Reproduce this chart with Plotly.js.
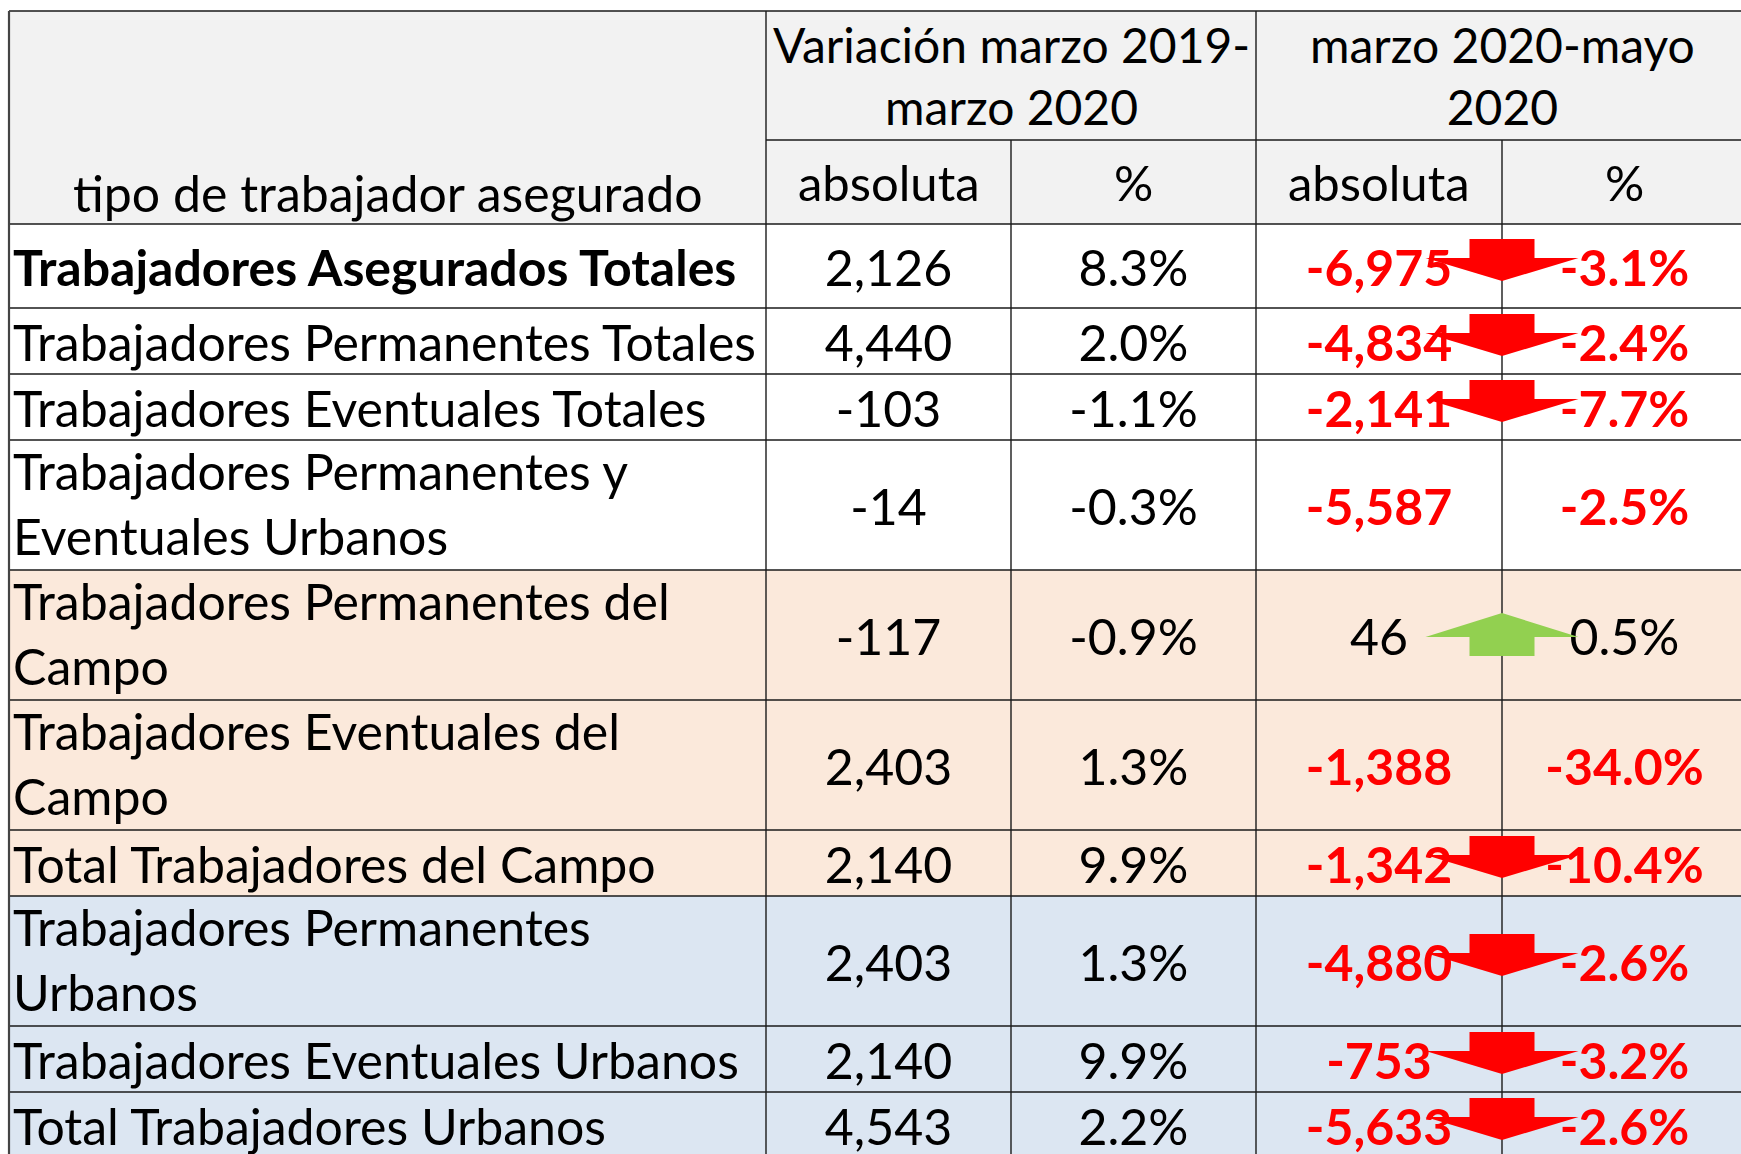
<!DOCTYPE html>
<html><head><meta charset="utf-8">
<script src="https://cdn.plot.ly/plotly-3.0.1.min.js"></script>
<style>html,body{margin:0;padding:0;background:#fff;overflow:hidden}</style>
</head><body><div id="chart" style="width:1741px;height:1154px"></div>
<script>
// ---------------- data ----------------
const titleText = "Trabajadores por categoría";
const firstHeader = "tipo de trabajador asegurado";
const periodLabels = ["Variación marzo 2019-<br>marzo 2020", "marzo 2020-mayo<br>2020"];
const subLabels = ["absoluta", "%", "absoluta", "%"];
const categories = [
  "Trabajadores Asegurados Totales",
  "Trabajadores Permanentes Totales",
  "Trabajadores Eventuales Totales",
  "Trabajadores Permanentes y<br>Eventuales Urbanos",
  "Trabajadores Permanentes del<br>Campo",
  "Trabajadores Eventuales del<br>Campo",
  "Total Trabajadores del Campo",
  "Trabajadores Permanentes<br>Urbanos",
  "Trabajadores Eventuales Urbanos",
  "Total Trabajadores Urbanos"
];
const groups = ["total","total","total","total","campo","campo","campo","urbano","urbano","urbano"];
const absMar19Mar20 = [2126, 4440, -103, -14, -117, 2403, 2140, 2403, 2140, 4543];
const pctMar19Mar20 = [8.3, 2.0, -1.1, -0.3, -0.9, 1.3, 9.9, 1.3, 9.9, 2.2];
const absMar20May20 = [-6975, -4834, -2141, -5587, 46, -1388, -1342, -4880, -753, -5633];
const pctMar20May20 = [-3.1, -2.4, -7.7, -2.5, 0.5, -34.0, -10.4, -2.6, -3.2, -2.6];
const trendArrow = ["down","down","down","","up","","down","down","down","down"];

// ---------------- layout constants ----------------
const W = 1741, H = 1154;
const colEdges = [9, 766, 1011, 1256, 1502, 1747];
const headerTop = 11, headerMid = 140, headerBottom = 224;
const lineStep = 64, boldRowH = 84;
const FONT = 'Lato, "Open Sans", sans-serif';
const FS = 50, HFS = 48;
const fills = {total: '#ffffff', campo: '#fbe9db', urbano: '#dce6f2'};
const headerFill = '#f2f2f2';
const gridColor = '#1a1a1a';
const RED = '#ff0000', GREEN = '#92d050';

// rows geometry
const n = categories.length;
const tops = [], heights = [], centers = [], nLines = [];
let yy = headerBottom;
for (let i = 0; i < n; i++) {
  const lines = categories[i].split('<br>').length;
  const h = i === 0 ? boldRowH : lines * lineStep + 2;
  tops.push(yy); heights.push(h); centers.push(yy + h / 2); nLines.push(lines);
  yy += h;
}
const bottom = yy;
const colCenter = k => (colEdges[k] + colEdges[k + 1]) / 2;

const fmtAbs = v => v.toLocaleString('en-US');
const fmtPct = v => v.toFixed(1) + '%';

// ---------------- shapes ----------------
const shapes = [];
shapes.push({type: 'rect', xref: 'x', yref: 'y', x0: colEdges[0], x1: colEdges[5], y0: headerTop, y1: headerBottom,
  fillcolor: headerFill, line: {width: 0}, layer: 'below'});
for (let i = 0; i < n; i++) {
  shapes.push({type: 'rect', xref: 'x', yref: 'y', x0: colEdges[0], x1: colEdges[5], y0: tops[i], y1: tops[i] + heights[i],
    fillcolor: fills[groups[i]], line: {width: 0}, layer: 'below'});
}
const hline = (y, x0, x1) => shapes.push({type: 'line', xref: 'x', yref: 'y', x0: x0, x1: x1, y0: y, y1: y,
  line: {color: gridColor, width: 1.4}, layer: 'below'});
const vline = (x, y0, y1, c, w) => shapes.push({type: 'line', xref: 'x', yref: 'y', x0: x, x1: x, y0: y0, y1: y1,
  line: {color: c || gridColor, width: w || 1.4}, layer: 'below'});
hline(headerTop, colEdges[0], colEdges[5]);
hline(headerMid, colEdges[1], colEdges[5]);
hline(headerBottom, colEdges[0], colEdges[5]);
for (let i = 0; i < n; i++) hline(tops[i] + heights[i], colEdges[0], colEdges[5]);
vline(colEdges[0], headerTop, bottom, '#444444', 2.2);
vline(colEdges[1], headerTop, bottom);
vline(colEdges[2], headerMid, bottom);
vline(colEdges[3], headerTop, bottom);
vline(colEdges[4], headerMid, bottom);

// arrows (between the two columns of the second period)
const ax = colEdges[4], shaftHalf = 32.5, headHalf = 76.5;
for (let i = 0; i < n; i++) {
  const c = centers[i];
  let p = null, col = null;
  if (trendArrow[i] === 'down') {
    const t = c - 27, m = c - 8, b = c + 15;
    p = `M${ax - shaftHalf},${t} L${ax + shaftHalf},${t} L${ax + shaftHalf},${m} L${ax + headHalf},${m} L${ax},${b} L${ax - headHalf},${m} L${ax - shaftHalf},${m} Z`;
    col = RED;
  } else if (trendArrow[i] === 'up') {
    const t = c - 22, m = c + 2, b = c + 21;
    p = `M${ax},${t} L${ax + headHalf},${m} L${ax + shaftHalf},${m} L${ax + shaftHalf},${b} L${ax - shaftHalf},${b} L${ax - shaftHalf},${m} L${ax - headHalf},${m} Z`;
    col = GREEN;
  }
  if (p) shapes.push({type: 'path', xref: 'x', yref: 'y', path: p, fillcolor: col, line: {width: 0}, layer: 'above'});
}

// ---------------- traces (values) ----------------
const valueCols = [
  {vals: absMar19Mar20, fmt: fmtAbs, colored: false},
  {vals: pctMar19Mar20, fmt: fmtPct, colored: false},
  {vals: absMar20May20, fmt: fmtAbs, colored: true},
  {vals: pctMar20May20, fmt: fmtPct, colored: true}
];
const traces = valueCols.map((vc, k) => ({
  type: 'scatter', mode: 'text',
  x: vc.vals.map(() => colCenter(k + 1)),
  y: centers.map(c => c + 7.5),
  text: vc.vals.map(v => (vc.colored && v < 0) ? '<b>' + vc.fmt(v) + '</b>' : vc.fmt(v)),
  textposition: 'middle center',
  textfont: {family: FONT, size: FS, color: vc.vals.map(v => (vc.colored && v < 0) ? RED : '#000000')},
  hoverinfo: 'skip', showlegend: false, cliponaxis: false
}));

// ---------------- annotations ----------------
const ann = [];
const A = (o) => ann.push(Object.assign({xref: 'x', yref: 'y', showarrow: false, borderpad: 0,
  font: {family: FONT, size: FS, color: '#000'}}, o));
A({text: '<b>' + titleText + '</b>', x: colEdges[0], y: 1.5, xanchor: 'left', yanchor: 'bottom', font: {family: FONT, size: 60, color: '#000'}});
A({text: firstHeader, x: colCenter(0), y: 193, xanchor: 'center', yanchor: 'middle', font: {family: FONT, size: 50, color: '#000'}});
A({text: periodLabels[0], x: colEdges[2], y: 75, xanchor: 'center', yanchor: 'middle', font: {family: FONT, size: HFS, color: '#000'}});
A({text: periodLabels[1], x: colEdges[4], y: 75, xanchor: 'center', yanchor: 'middle', font: {family: FONT, size: HFS, color: '#000'}});
subLabels.forEach((s, k) => A({text: s, x: colCenter(k + 1), y: 182, xanchor: 'center', yanchor: 'middle', font: {family: FONT, size: 49, color: '#000'}}));
categories.forEach((c, i) => A({text: i === 0 ? '<b>' + c + '</b>' : c, x: colEdges[0] + 3,
  y: centers[i] + (nLines[i] === 1 ? 1 : -1.5),
  xanchor: 'left', yanchor: 'middle', align: 'left'}));

const layout = {
  width: W, height: H, margin: {l: 0, r: 0, t: 0, b: 0, pad: 0},
  paper_bgcolor: '#ffffff', plot_bgcolor: '#ffffff',
  xaxis: {range: [0, W], visible: false, fixedrange: true},
  yaxis: {range: [H, 0], visible: false, fixedrange: true},
  shapes: shapes, annotations: ann, showlegend: false
};
Plotly.newPlot('chart', traces, layout, {displayModeBar: false, staticPlot: true});
</script></body></html>
